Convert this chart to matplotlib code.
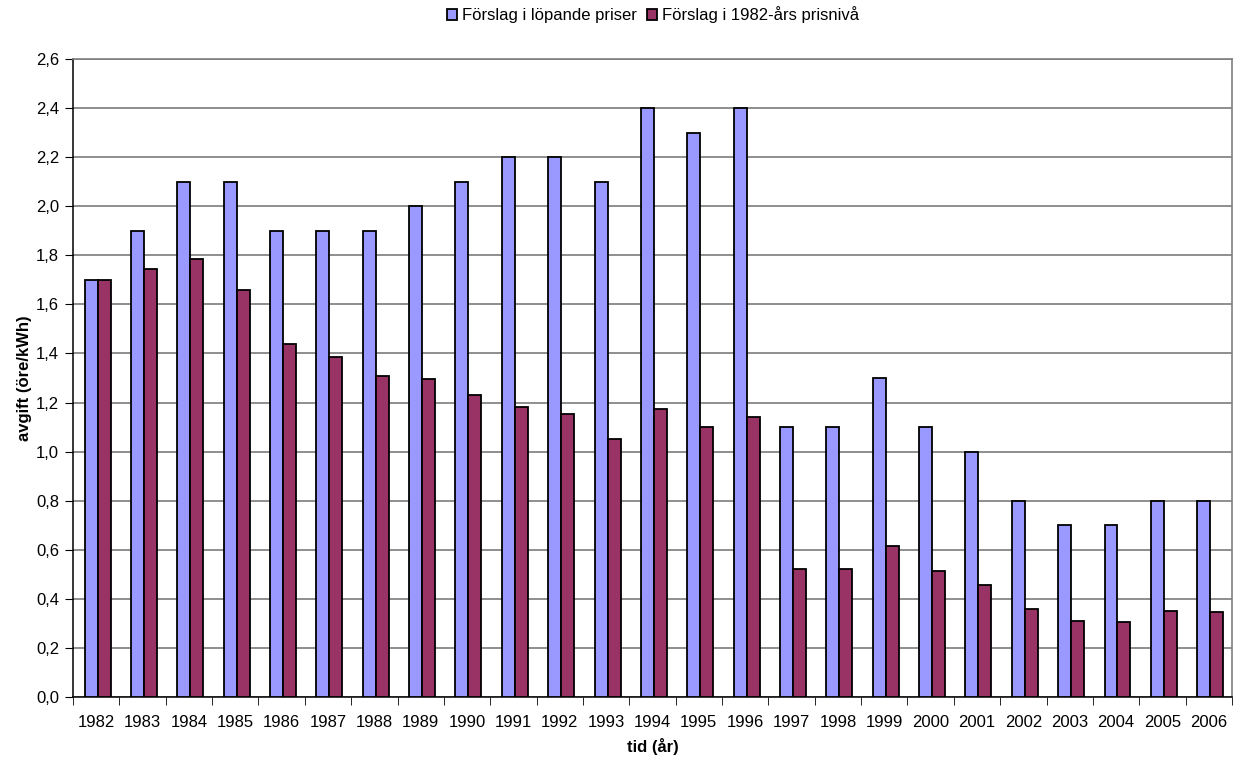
import matplotlib
matplotlib.use("Agg")
import matplotlib.pyplot as plt
import numpy as np

years = [str(y) for y in range(1982, 2007)]
lopande = [1.7, 1.9, 2.1, 2.1, 1.9, 1.9, 1.9, 2.0, 2.1, 2.2, 2.2, 2.1, 2.4, 2.3, 2.4,
           1.1, 1.1, 1.3, 1.1, 1.0, 0.8, 0.7, 0.7, 0.8, 0.8]
prisniva82 = [1.70, 1.745, 1.785, 1.66, 1.44, 1.385, 1.31, 1.295, 1.23, 1.18, 1.155, 1.05,
              1.175, 1.10, 1.14, 0.52, 0.52, 0.615, 0.515, 0.456, 0.358, 0.31, 0.306, 0.35, 0.345]
yticks = np.arange(0, 2.61, 0.2)
ytick_labels = [f"{v:.1f}".replace(".", ",") for v in yticks]

plt.rcParams['font.family'] = ['Liberation Sans', 'DejaVu Sans']

fig = plt.figure(figsize=(12.39, 7.62), dpi=100)
ax = fig.add_axes([73/1239, 1-697/762, (1232-73)/1239, (697-59)/762])

x = np.arange(len(years))
w = 0.28
off = 0.03
ax.bar(x - w/2 + off, lopande, width=w, color='#9999FF', edgecolor='black', linewidth=1.3,
       label='Förslag i löpande priser', zorder=3)
ax.bar(x + w/2 + off, prisniva82, width=w, color='#993366', edgecolor='black', linewidth=1.3,
       label='Förslag i 1982-års prisnivå', zorder=3)

ax.set_xlim(-0.5, len(years) - 0.5)
ax.set_ylim(0, 2.6)
ax.set_yticks(yticks)
ax.set_yticklabels(ytick_labels, fontsize=12)
ax.set_xticks(x)
ax.set_xticklabels(years, fontsize=12)
ax.set_xticks(np.arange(-0.5, len(years), 1), minor=True)
ax.tick_params(axis='x', which='major', length=0, pad=13)
ax.tick_params(axis='x', which='minor', length=6, color='black')
ax.tick_params(axis='y', length=6, color='black', pad=4)

ax.grid(axis='y', color='#707070', linewidth=1.1, zorder=0)
for s in ['top', 'right']:
    ax.spines[s].set_color('#808080')
    ax.spines[s].set_linewidth(1.2)
ax.spines['left'].set_color('black')
ax.spines['bottom'].set_color('black')
ax.spines['left'].set_linewidth(1.1)
ax.spines['bottom'].set_linewidth(1.1)

ax.set_ylabel('avgift (öre/kWh)', fontsize=12, fontweight='bold', labelpad=3)
ax.set_xlabel('tid (år)', fontsize=12, fontweight='bold', labelpad=6)

fig.legend(loc='center', bbox_to_anchor=(653/1239, 1-15/762), ncol=2, frameon=False,
           fontsize=12, handlelength=0.6, handleheight=0.6, handletextpad=0.3,
           columnspacing=0.6)

fig.savefig('out.png', dpi=100)
